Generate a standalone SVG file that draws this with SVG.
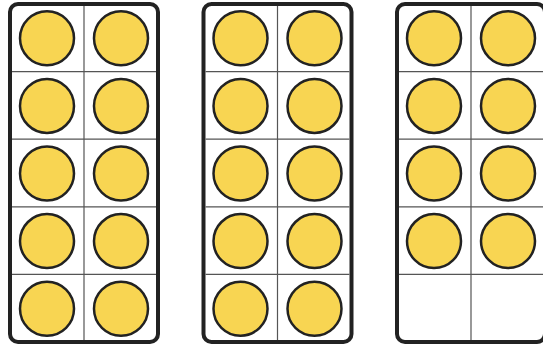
<svg xmlns="http://www.w3.org/2000/svg" width="543" height="347" viewBox="0 0 543 347">
<style>
.frame{fill:#fff;stroke:#222;stroke-width:4}
.grid{stroke:#555;stroke-width:1.2;fill:none}
.dot{fill:#F8D552;stroke:#222;stroke-width:2.5}
</style>
<rect width="543" height="347" fill="#fff"/>
<defs>
<g id="frameBase">
<rect class="frame" x="0" y="0" width="148" height="338" rx="8"/>
<path class="grid" d="M74 2V336M2 67.6H146M2 135.2H146M2 202.8H146M2 270.4H146"/>
</g>
<circle id="d" class="dot" r="27"/>
</defs>
<g id="frame1" transform="translate(10,4)">
<use href="#frameBase"/>
<use href="#d" x="37" y="34.3"/><use href="#d" x="111" y="34.3"/>
<use href="#d" x="37" y="101.9"/><use href="#d" x="111" y="101.9"/>
<use href="#d" x="37" y="169.5"/><use href="#d" x="111" y="169.5"/>
<use href="#d" x="37" y="237.1"/><use href="#d" x="111" y="237.1"/>
<use href="#d" x="37" y="304.7"/><use href="#d" x="111" y="304.7"/>
</g>
<g id="frame2" transform="translate(203.5,4)">
<use href="#frameBase"/>
<use href="#d" x="37" y="34.3"/><use href="#d" x="111" y="34.3"/>
<use href="#d" x="37" y="101.9"/><use href="#d" x="111" y="101.9"/>
<use href="#d" x="37" y="169.5"/><use href="#d" x="111" y="169.5"/>
<use href="#d" x="37" y="237.1"/><use href="#d" x="111" y="237.1"/>
<use href="#d" x="37" y="304.7"/><use href="#d" x="111" y="304.7"/>
</g>
<g id="frame3" transform="translate(397,4)">
<use href="#frameBase"/>
<use href="#d" x="37" y="34.3"/><use href="#d" x="111" y="34.3"/>
<use href="#d" x="37" y="101.9"/><use href="#d" x="111" y="101.9"/>
<use href="#d" x="37" y="169.5"/><use href="#d" x="111" y="169.5"/>
<use href="#d" x="37" y="237.1"/><use href="#d" x="111" y="237.1"/>
</g>
<g id="connectors"/>
</svg>
